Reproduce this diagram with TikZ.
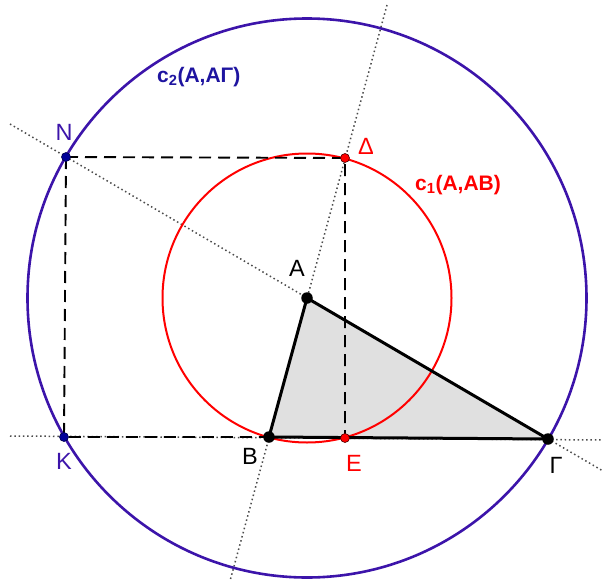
\documentclass[tikz,border=0pt]{standalone}
\usepackage{fontspec}
\setmainfont{Liberation Sans}
\begin{document}
\begin{tikzpicture}[x=1pt,y=-1pt,
  dotline/.style={gray!60!black, line width=1.5pt, dash pattern=on 1.5pt off 2.8pt},
  dashline/.style={black, line width=1.9pt, dash pattern=on 12pt off 7pt},
  bigdot/.style={circle, fill=black, inner sep=0pt, minimum size=11.5pt},
  bluedot/.style={circle, fill=blue!60!black, draw=black!70!blue, line width=0.6pt, inner sep=0pt, minimum size=9pt},
  reddot/.style={circle, fill=red, draw=black!70!red, line width=0.6pt, inner sep=0pt, minimum size=9pt},
  lbl/.style={font=\fontsize{23.5}{23.5}\selectfont, inner sep=0pt},
  clbl/.style={font=\fontsize{21}{21}\selectfont\bfseries, inner sep=0pt}]
\useasboundingbox (0,0) rectangle (603,581);
\definecolor{cblue}{RGB}{60,20,170}
\definecolor{lblue}{RGB}{30,20,160}
\definecolor{tri}{RGB}{224,224,224}
\coordinate (A) at (307,298);
\coordinate (B) at (269,437);
\coordinate (G) at (548,439);
\coordinate (E) at (345,438);
\coordinate (D) at (345,158);
\coordinate (N) at (66,157);
\coordinate (K) at (64,437);
\coordinate (abTop) at (387,5);
\coordinate (abBot) at (230,581);
\coordinate (agL) at (10,124);
\coordinate (agR) at (603,471);
\coordinate (bgL) at (10,436);
\coordinate (bgR) at (603,440);
% triangle
\fill[tri] (A) -- (B) -- (G) -- cycle;
% dotted lines
\draw[dotline] (abTop) -- (abBot);
\draw[dotline] (agL) -- (agR);
\draw[dotline] (bgL) -- (bgR);
% circles
\draw[red, line width=2pt] (A) circle (144.5);
\draw[cblue, line width=2.6pt] (A) circle (279.5);
% dashed
\draw[dashline] (N) -- (D) -- (E);
\draw[dashline] (N) -- (K) -- (B);
% triangle border
\draw[black, line width=3pt, line join=round] (A) -- (B) -- (G) -- cycle;
% points
\node[bigdot] (pA) at (A) {};
\node[bigdot] (pB) at (B) {};
\node[bigdot] (pG) at (G) {};
\node[bluedot] (pN) at (N) {};
\node[bluedot] (pK) at (K) {};
\node[reddot] (pD) at (D) {};
\node[reddot] (pE) at (E) {};
% labels
\node[lbl, text=cblue] (lN) at (64,132) {N};
\node[lbl, text=cblue] (lK) at (64,461) {K};
\node[lbl, text=red] (lD) at (366,146) {Δ};
\node[lbl, text=red] (lE) at (354,463) {E};
\node[lbl] (lA) at (297,268) {A};
\node[lbl] (lB) at (250,456) {B};
\node[lbl] (lG) at (556,465) {Γ};
\node[clbl, text=lblue, anchor=west] (c2) at (157,77) {c\textsubscript{2}(A,AΓ)};
\node[clbl, text=red, anchor=west] (c1) at (415,185) {c\textsubscript{1}(A,AB)};
\end{tikzpicture}
\end{document}
